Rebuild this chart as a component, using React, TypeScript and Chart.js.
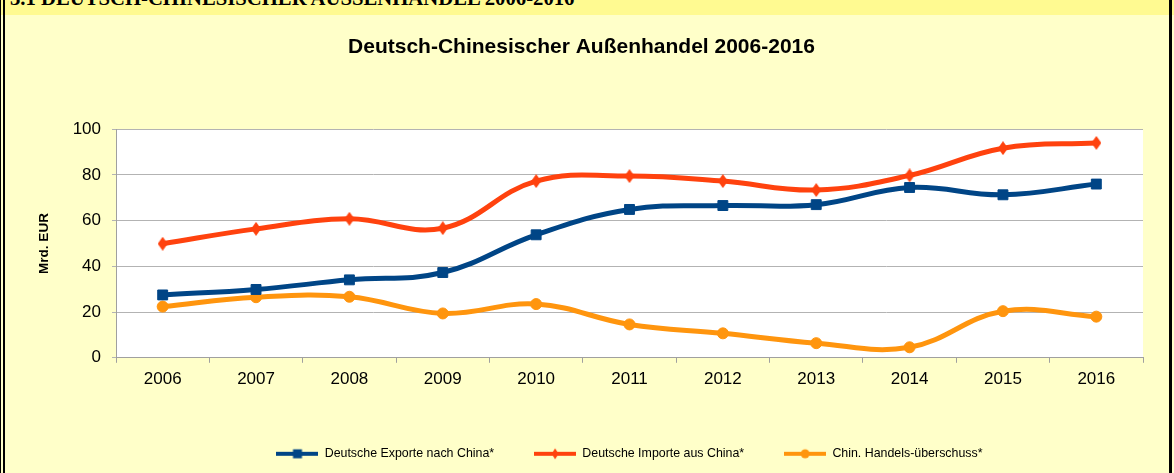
import React, { useEffect, useRef } from "react";
import { Chart, registerables } from "chart.js";

Chart.register(...registerables);

const HEADER_TEXT = "3.1 DEUTSCH-CHINESISCHER AUSSENHANDEL 2006-2016";
const CHART_TITLE = "Deutsch-Chinesischer Außenhandel 2006-2016";
const Y_TITLE = "Mrd. EUR";

const YEARS = ["2006", "2007", "2008", "2009", "2010", "2011", "2012", "2013", "2014", "2015", "2016"];
const EXPORTS = [27.5, 29.9, 34.1, 37.3, 53.8, 64.9, 66.6, 67.0, 74.5, 71.3, 76.0];
const IMPORTS = [49.9, 56.4, 60.8, 56.7, 77.3, 79.5, 77.3, 73.4, 79.8, 91.7, 94.0];
const SURPLUS = [22.4, 26.5, 26.7, 19.4, 23.5, 14.6, 10.7, 6.4, 4.6, 20.4, 18.0];
const SERIES_NAMES = ["Deutsche Exporte nach China*", "Deutsche Importe aus China*", "Chin. Handels-überschuss*"];
const Y_MIN = 0;
const Y_MAX = 100;
const Y_STEP = 20;

const BLUE = "#004586";
const RED = "#FF420E";
const ORANGE = "#FF950E";
const FONT = "'Liberation Sans', Arial, sans-serif";

function drawMarker(ctx: CanvasRenderingContext2D, kind: string, color: string, cx: number, cy: number) {
  ctx.fillStyle = color;
  ctx.beginPath();
  if (kind === "square") {
    ctx.rect(cx - 4.5, cy - 4.5, 9, 9);
  } else if (kind === "diamond") {
    ctx.moveTo(cx, cy - 5.5);
    ctx.lineTo(cx + 3.5, cy);
    ctx.lineTo(cx, cy + 5.5);
    ctx.lineTo(cx - 3.5, cy);
    ctx.closePath();
  } else {
    ctx.arc(cx, cy, 4.5, 0, Math.PI * 2);
  }
  ctx.fill();
}

function makeLegendIcon(kind: string, color: string) {
  const c = document.createElement("canvas");
  c.width = 42;
  c.height = 14;
  const ctx = c.getContext("2d")!;
  ctx.strokeStyle = color;
  ctx.lineWidth = 4;
  ctx.beginPath();
  ctx.moveTo(0, 7);
  ctx.lineTo(42, 7);
  ctx.stroke();
  drawMarker(ctx, kind, color, 21, 7);
  return c;
}

function makeDiamondPoint(color: string) {
  const c = document.createElement("canvas");
  c.width = 10;
  c.height = 14;
  const ctx = c.getContext("2d")!;
  ctx.fillStyle = color;
  ctx.beginPath();
  ctx.moveTo(5, 0);
  ctx.lineTo(10, 7);
  ctx.lineTo(5, 14);
  ctx.lineTo(0, 7);
  ctx.closePath();
  ctx.fill();
  return c;
}

const plotBackground = {
  id: "plotBackground",
  beforeDraw(chart: any) {
    const { ctx, chartArea } = chart;
    ctx.save();
    ctx.fillStyle = "#FFFFFF";
    ctx.fillRect(chartArea.left, chartArea.top, chartArea.right - chartArea.left, chartArea.bottom - chartArea.top);
    ctx.restore();
  },
};

export default function App() {
  const canvasRef = useRef<HTMLCanvasElement | null>(null);

  useEffect(() => {
    if (!canvasRef.current) return;
    const icons = [
      makeLegendIcon("square", BLUE),
      makeLegendIcon("diamond", RED),
      makeLegendIcon("circle", ORANGE),
    ];
    const colors = [BLUE, RED, ORANGE];
    const chart = new Chart(canvasRef.current, {
      type: "line",
      data: {
        labels: YEARS,
        datasets: [
          {
            label: SERIES_NAMES[0],
            data: EXPORTS,
            borderColor: BLUE,
            backgroundColor: BLUE,
            borderWidth: 5,
            pointStyle: "rect",
            pointRadius: 7,
            pointBorderWidth: 1,
            tension: 0.4,
          },
          {
            label: SERIES_NAMES[1],
            data: IMPORTS,
            borderColor: RED,
            backgroundColor: RED,
            borderWidth: 5,
            pointStyle: makeDiamondPoint(RED) as any,
            pointRadius: 6,
            tension: 0.4,
          },
          {
            label: SERIES_NAMES[2],
            data: SURPLUS,
            borderColor: ORANGE,
            backgroundColor: ORANGE,
            borderWidth: 5,
            pointStyle: "circle",
            pointRadius: 5.5,
            pointBorderWidth: 1,
            tension: 0.4,
          },
        ],
      },
      options: {
        animation: false,
        responsive: false,
        maintainAspectRatio: false,
        devicePixelRatio: 1,
        events: [],
        layout: { padding: { left: 20, right: 31, top: 0, bottom: 3 } },
        plugins: {
          title: {
            display: true,
            text: CHART_TITLE,
            color: "#000000",
            font: { family: FONT, size: 21, weight: "bold" },
            padding: { top: 35, bottom: 69 },
          },
          legend: {
            position: "bottom",
            fullSize: false,
            labels: {
              usePointStyle: true,
              pointStyleWidth: 42,
              padding: 40,
              color: "#000000",
              font: { family: FONT, size: 12.4 },
              generateLabels: () =>
                SERIES_NAMES.map((name, i) => ({
                  text: name,
                  pointStyle: icons[i] as any,
                  fillStyle: colors[i],
                  strokeStyle: colors[i],
                  lineWidth: 0,
                  hidden: false,
                  datasetIndex: i,
                  fontColor: "#000000",
                })),
            },
          },
          tooltip: { enabled: false },
        },
        scales: {
          x: {
            offset: true,
            grid: {
              offset: true,
              drawOnChartArea: false,
              drawTicks: true,
              tickLength: 5,
              color: "#A0A0A0",
            },
            border: { color: "#A0A0A0" },
            ticks: {
              color: "#000000",
              font: { family: FONT, size: 17 },
              padding: 6,
              maxRotation: 0,
              autoSkip: false,
            },
            afterFit: (s: any) => {
              s.height = 49.8;
            },
          },
          y: {
            min: Y_MIN,
            max: Y_MAX,
            ticks: {
              stepSize: Y_STEP,
              color: "#000000",
              font: { family: FONT, size: 17 },
              padding: 11,
            },
            grid: { color: "#B3B3B3", tickLength: 4 },
            border: { color: "#A0A0A0" },
            title: {
              display: true,
              text: Y_TITLE,
              color: "#000000",
              font: { family: FONT, size: 13.5, weight: "bold" },
              padding: { top: 16, bottom: 0 },
            },
            afterFit: (s: any) => {
              s.width = 96;
            },
          },
        },
      },
      plugins: [plotBackground],
    } as any);
    return () => chart.destroy();
  }, []);

  return (
    <div
      style={{
        position: "absolute",
        left: 0,
        top: 0,
        width: 1174,
        height: 473,
        overflow: "hidden",
        background: "#FFFFC9",
      }}
    >
      <div
        style={{
          position: "absolute",
          left: 0,
          top: 0,
          width: 1174,
          height: 15,
          background: "#FFFA91",
        }}
      />
      <div
        style={{
          position: "absolute",
          left: 10,
          top: -12,
          whiteSpace: "nowrap",
          fontFamily: "'Liberation Serif', 'Times New Roman', serif",
          fontWeight: "bold",
          fontSize: 20.7,
          lineHeight: "20px",
          color: "#000000",
        }}
      >
        {HEADER_TEXT}
      </div>
      <canvas
        ref={canvasRef}
        width={1174}
        height={473}
        style={{ position: "absolute", left: 0, top: 0, width: 1174, height: 473 }}
      />
      <div style={{ position: "absolute", left: 0, top: 0, width: 1, height: 473, background: "#000" }} />
      <div style={{ position: "absolute", left: 3, top: 0, width: 2, height: 473, background: "#000" }} />
      <div style={{ position: "absolute", left: 1169, top: 0, width: 3, height: 473, background: "#000" }} />
    </div>
  );
}
